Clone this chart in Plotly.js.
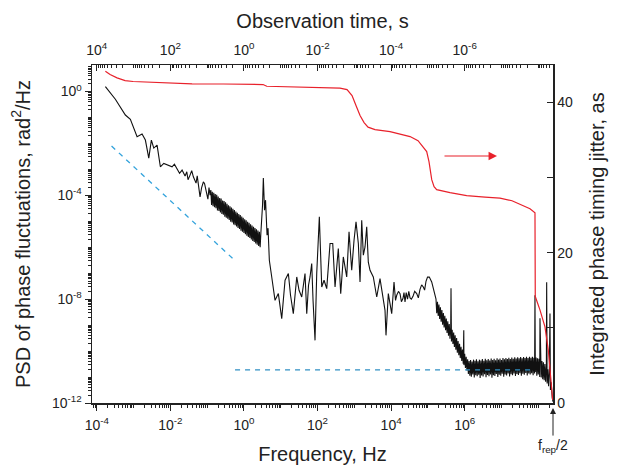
<!DOCTYPE html>
<html><head><meta charset="utf-8">
<script src="https://cdn.plot.ly/plotly-3.0.1.min.js"></script>
<style>html,body{margin:0;padding:0;background:#fff}</style>
</head><body><div id="plot" style="width:619px;height:465px"></div>
<script>
// PSD of phase fluctuations (black) in decades: log10(Hz), log10(rad^2/Hz)
const psdLogFreq = [
-3.766,-3.495,-3.223,-3.087,-2.905,-2.769,-2.679,-2.587,-2.516,-2.451,-2.361,-2.272,-2.179,-2.063,
-1.954,-1.89,-1.818,-1.75,-1.682,-1.60,-1.554,-1.52,-1.465,-1.42,-1.375,-1.33,-1.302,-1.27,-1.239,-1.193,-1.15,-1.103,-1.07,-1.03,-0.98,-0.95,-0.921,
-0.90,-0.88,-0.86,-0.84,-0.82,-0.80,-0.78,-0.76,-0.74,-0.72,-0.70,-0.68,-0.66,-0.64,-0.62,-0.60,-0.58,-0.56,-0.54,-0.52,
-0.50,-0.48,-0.46,-0.44,-0.42,-0.40,-0.38,-0.36,-0.34,-0.32,-0.30,-0.28,-0.26,-0.24,-0.22,-0.20,-0.18,-0.16,-0.14,-0.12,
-0.10,-0.08,-0.06,-0.04,-0.02,0.00,0.02,0.04,0.06,0.08,0.10,0.12,0.14,0.16,0.18,0.20,0.22,0.24,0.26,0.28,
0.30,0.32,0.34,0.36,0.38,0.40,0.42,0.44,0.46,
0.505,0.527,0.56,0.587,0.628,0.655,0.69,0.755,0.845,0.935,1.027,1.117,1.207,1.266,1.342,1.435,1.497,1.571,1.66,1.707,1.755,1.796,1.842,1.878,1.932,1.978,2.049,2.114,2.177,2.25,2.34,2.413,2.476,2.565,2.63,2.701,2.793,2.856,2.929,2.992,3.046,3.109,3.155,3.201,3.245,3.291,3.337,3.38,3.427,3.516,3.609,3.698,3.788,3.834,3.861,3.924,
4.016,4.05,4.079,4.12,4.152,4.20,4.242,4.28,4.323,4.35,4.378,4.41,4.446,4.48,4.514,4.55,4.595,4.64,4.696,4.74,4.785,4.83,4.875,4.91,4.948,4.99,5.038,5.103,5.193,
5.22,5.24,5.26,5.28,5.30,5.32,5.34,5.36,5.38,5.40,5.42,5.44,5.46,5.48,5.50,5.52,5.54,5.56,5.58,5.60,5.62,5.628,
5.64,5.66,5.68,5.70,5.72,5.74,5.76,5.78,5.80,5.82,5.84,5.86,5.88,5.90,5.92,5.94,5.96,5.975,5.98,6.00,6.02,6.04,6.06,6.08,6.10,
6.12,6.14,6.16,6.18,6.20,6.22,6.24,6.26,6.28,6.30,
6.32,6.34,6.36,6.38,6.40,6.42,6.44,6.46,6.48,6.50,
6.52,6.54,6.56,6.58,6.60,6.62,6.64,6.66,6.68,6.70,
6.72,6.74,6.76,6.78,6.80,6.82,6.84,6.86,6.88,6.90,
6.92,6.94,6.96,6.98,7.00,7.02,7.04,7.06,7.08,7.10,
7.12,7.14,7.16,7.18,7.20,7.22,7.24,7.26,7.28,7.30,
7.32,7.34,7.36,7.38,7.40,7.42,7.44,7.46,7.48,7.50,
7.52,7.54,7.56,7.58,7.60,7.62,7.64,7.66,7.68,7.70,
7.72,7.74,7.76,7.78,7.80,7.82,7.84,7.86,7.88,7.90,
7.91,7.92,7.94,7.96,7.98,8.00,8.02,8.04,8.046,8.06,
8.08,8.10,8.12,8.14,8.16,8.18,8.20,8.22,8.228,8.24,
8.26,8.28,8.30,8.318,8.33,8.35,8.36,8.38,8.40];
const psdLogValue = [
0.185,-0.30,-0.907,-1.073,-1.744,-1.64,-1.871,-2.566,-1.871,-2.18,-2.064,-2.901,-2.77,-2.836,
-2.901,-2.80,-2.99,-3.15,-3.029,-3.26,-3.094,-3.40,-3.221,-3.05,-3.287,-3.45,-3.53,-3.25,-3.673,-4.059,-3.70,-3.48,-3.55,-3.80,-4.15,-3.70,-3.993,
-3.80,-4.37,-3.86,-4.42,-3.90,-4.46,-3.95,-4.50,-3.98,-4.58,-4.05,-4.60,-4.10,-4.66,-4.12,-4.72,-4.20,-4.75,-4.22,-4.82,
-4.27,-4.86,-4.33,-4.90,-4.38,-4.95,-4.42,-5.02,-4.47,-5.05,-4.52,-5.12,-4.57,-5.15,-4.62,-5.20,-4.67,-5.26,-4.72,-5.30,
-4.76,-5.36,-4.82,-5.40,-4.87,-5.45,-4.92,-5.50,-4.96,-5.56,-5.02,-5.60,-5.06,-5.64,-5.12,-5.70,-5.16,-5.76,-5.21,-5.80,
-5.26,-5.85,-5.31,-5.90,-5.36,-5.95,-5.40,-6.00,-5.45,
-4.379,-3.337,-4.572,-4.186,-5.536,-5.266,-6.501,-7.145,-8.044,-7.786,-8.75,-7.272,-7.014,-7.851,-8.557,-7.145,-7.658,-7.917,-7.014,-8.557,-7.465,-7.145,-6.628,-8.044,-9.587,-7.014,-4.83,-7.531,-7.272,-7.593,-5.856,-5.856,-7.531,-6.049,-7.786,-6.373,-7.145,-5.409,-6.887,-5.729,-5.023,-5.856,-7.338,-4.958,-6.308,-5.988,-5.216,-6.578,-6.887,-7.145,-7.917,-7.207,-7.917,-8.43,-9.394,-7.786,
-8.557,-7.65,-7.338,-8.05,-7.851,-7.70,-7.786,-8.10,-7.967,-7.75,-8.11,-7.75,-8.0,-7.70,-7.95,-8.00,-7.89,-7.70,-7.786,-7.95,-7.62,-7.45,-7.531,-7.65,-7.311,-7.15,-7.145,-7.338,-7.786,
-8.00,-8.54,-8.10,-8.65,-8.21,-8.76,-8.31,-8.87,-8.42,-8.98,-8.53,-9.09,-8.64,-9.20,-8.75,-9.30,-8.85,-9.41,-8.96,-9.52,-9.07,-7.58,
-9.63,-9.18,-9.73,-9.29,-9.84,-9.39,-9.95,-9.50,-10.06,-9.61,-10.16,-9.72,-10.27,-9.83,-10.38,-9.94,-10.49,-9.20,-10.54,-10.10,-10.65,-10.22,-10.75,-10.32,-10.88,
-10.38,-10.95,-10.34,-10.99,-10.40,-10.90,-10.33,-11.02,-10.37,-10.93,
-10.32,-10.97,-10.39,-10.91,-10.33,-11.04,-10.36,-10.94,-10.31,-10.98,
-10.37,-10.89,-10.30,-11.01,-10.35,-10.92,-10.31,-10.97,-10.36,-10.90,
-10.29,-11.03,-10.34,-10.93,-10.30,-10.96,-10.35,-10.88,-10.28,-11.00,
-10.33,-10.91,-10.29,-10.95,-10.34,-10.87,-10.27,-10.99,-10.32,-10.90,
-10.27,-10.94,-10.31,-10.86,-10.26,-10.98,-10.31,-10.89,-10.25,-10.93,
-10.30,-10.86,-10.24,-10.96,-10.29,-10.88,-10.24,-10.92,-10.28,-10.85,
-10.23,-10.95,-10.28,-10.87,-10.23,-10.91,-10.27,-10.84,-10.22,-10.94,
-10.27,-10.86,-10.22,-10.90,-10.26,-10.85,-10.22,-10.93,-10.26,-10.86,
-7.85,-10.80,-10.25,-10.95,-10.28,-10.90,-10.30,-11.00,-8.74,-10.33,
-11.02,-10.38,-11.08,-10.43,-11.12,-10.50,-11.18,-10.58,-7.35,-11.25,
-10.70,-11.35,-10.85,-8.55,-11.50,-11.20,-11.65,-11.80,-11.95];

// Integrated phase timing jitter (red, right axis, attoseconds)
const jitterFreq = [1.71e-4,2.3e-4,3.56e-4,5.88e-4,9.7e-4,4.84e-3,0.0389,0.27,3.3,4.17,17.9,408,634,867,1110,1430,1840,2360,3650,9340,17500,32700,53900,73600,92700,107000,127000,147000,173000,399000,1.13e6,3.56e6,9.1e6,1.93e7,3.6e7,5.95e7,8.13e7,8.28e7,1.11e8,1.52e8,1.87e8,2.14e8,2.46e8];
const jitter = [44.17,43.73,43.29,42.93,42.8,42.63,42.49,42.47,42.4,42.17,42.09,41.93,41.73,40.93,39.6,38.27,37.33,36.73,36.4,36.13,35.8,35.47,34.93,34.13,33.47,32.13,29.73,28.8,28.4,28.0,27.6,27.4,27.27,26.93,26.4,25.87,25.33,14.17,12.4,10.13,7.07,3.73,0.4];

// Guide lines (blue dashed)
const slopeFreq = [2.52e-4, 0.521];
const slopePsd = [7.9e-3, 3.45e-7];
const floorFreq = [0.573, 7.18e7];
const floorPsd = [1.88e-11, 1.88e-11];

// Tick labels
const freqTicks = [1e-4, 1e-2, 1e0, 1e2, 1e4, 1e6];
const freqLabels = ['10<sup>-4</sup>','10<sup>-2</sup>','10<sup>0</sup>','10<sup>2</sup>','10<sup>4</sup>','10<sup>6</sup>'];
const timeTicks = [1e4, 1e2, 1e0, 1e-2, 1e-4, 1e-6];
const timeLabels = ['10<sup>4</sup>','10<sup>2</sup>','10<sup>0</sup>','10<sup>-2</sup>','10<sup>-4</sup>','10<sup>-6</sup>'];
const psdTicks = [1e-12, 1e-8, 1e-4, 1e0];
const psdLabels = ['10<sup>-12</sup>','10<sup>-8</sup>','10<sup>-4</sup>','10<sup>0</sup>'];
const jitterTicks = [0, 20, 40];
const jitterLabels = ['0','20','40'];
const jitterMinorTicks = [10, 30];

const freq = psdLogFreq.map(v => Math.pow(10, v));
const psd = psdLogValue.map(v => Math.pow(10, v));

// minor log ticks (all non-labelled decades and 2..9 sub-ticks)
function minorVals(lo, hi, labelled){
  const v=[];
  for(let d=lo; d<=hi; d++){
    const dec = Math.pow(10,d);
    if(!labelled.some(t => Math.abs(Math.log10(t)-d) < 1e-9)) v.push(dec);
    for(let m=2;m<=9;m++) v.push(m*dec);
  }
  return v;
}

const ink = '#222';
const fam = 'Liberation Sans, Arial, sans-serif';
const tickFont = {family:fam, size:14, color:ink};
const titleFont = {family:fam, size:20, color:ink};

const traces = [
  {x:freq, y:psd, type:'scatter', mode:'lines', line:{color:'#111', width:1.1}, xaxis:'x', yaxis:'y'},
  {x:slopeFreq, y:slopePsd, type:'scatter', mode:'lines', line:{color:'#33a3dc', width:1.3, dash:'5px,5px'}, xaxis:'x', yaxis:'y'},
  {x:floorFreq, y:floorPsd, type:'scatter', mode:'lines', line:{color:'#2f8fc4', width:1.4, dash:'5px,5px'}, xaxis:'x', yaxis:'y'},
  {x:jitterFreq, y:jitter, type:'scatter', mode:'lines', line:{color:'#e8212b', width:1.2}, xaxis:'x', yaxis:'y2'},
  {x:jitterFreq.map(f=>1/f), y:jitter, type:'scatter', mode:'lines', line:{color:'rgba(0,0,0,0)', width:0}, xaxis:'x2', yaxis:'y2'}
];

const common = {showline:true, linecolor:ink, linewidth:1.5, tickwidth:1, tickcolor:ink, showgrid:false, zeroline:false, tickfont:tickFont, automargin:false, tickmode:'array'};

const layout = {
  width:619, height:465,
  margin:{l:92, r:66, t:65, b:62, pad:0},
  paper_bgcolor:'#fff', plot_bgcolor:'#fff',
  showlegend:false,
  font:tickFont,
  xaxis:Object.assign({}, common, {type:'log', range:[-4.13, 8.40], autorange:false,
    ticks:'outside', ticklen:6, tickvals:freqTicks, ticktext:freqLabels, ticklabelstandoff:3,
    minor:{tickmode:'array', tickvals:minorVals(-5,8,freqTicks), ticks:'outside', ticklen:3, tickwidth:1, tickcolor:ink, showgrid:false},
    title:{text:'Frequency, Hz', font:titleFont, standoff:17}}),
  xaxis2:Object.assign({}, common, {type:'log', overlaying:'x', side:'top', anchor:'y', range:[4.13, -8.40], autorange:false,
    ticks:'inside', ticklen:6, tickvals:timeTicks, ticktext:timeLabels, ticklabelstandoff:3,
    minor:{tickmode:'array', tickvals:minorVals(-9,4,timeTicks), ticks:'inside', ticklen:3, tickwidth:1, tickcolor:ink, showgrid:false},
    title:{text:'Observation time, s', font:titleFont, standoff:6}}),
  yaxis:Object.assign({}, common, {type:'log', range:[-12, 1.02], autorange:false,
    ticks:'outside', ticklen:6, tickvals:psdTicks, ticktext:psdLabels,
    minor:{tickmode:'array', tickvals:minorVals(-12,0,psdTicks), ticks:'outside', ticklen:3, tickwidth:1, tickcolor:ink, showgrid:false},
    title:{text:'PSD of phase fluctuations, rad<sup>2</sup>/Hz', font:titleFont, standoff:16}}),
  yaxis2:Object.assign({}, common, {overlaying:'y', side:'right', anchor:'x', range:[0, 45], autorange:false,
    ticks:'inside', ticklen:6, tickvals:jitterTicks, ticktext:jitterLabels,
    minor:{tickmode:'array', tickvals:jitterMinorTicks, ticks:'inside', ticklen:6, tickwidth:1, tickcolor:ink, showgrid:false},
    title:{text:'Integrated phase timing jitter, as', font:titleFont, standoff:18}}),
  annotations:[
    {xref:'paper', yref:'paper', x:0.8785, y:0.7308, text:'', showarrow:true, ax:-54, ay:0,
     arrowhead:2, arrowsize:1.4, arrowwidth:1.2, arrowcolor:'#e8212b'},
    {xref:'paper', yref:'paper', x:1, y:-0.015, text:'f<sub>rep</sub>/2', showarrow:true, ax:0, ay:38,
     arrowhead:2, arrowsize:1.2, arrowwidth:1, arrowcolor:ink, font:{family:fam, size:14, color:ink}}
  ]
};

Plotly.newPlot('plot', traces, layout, {displayModeBar:false, staticPlot:true});
</script>
</body></html>
